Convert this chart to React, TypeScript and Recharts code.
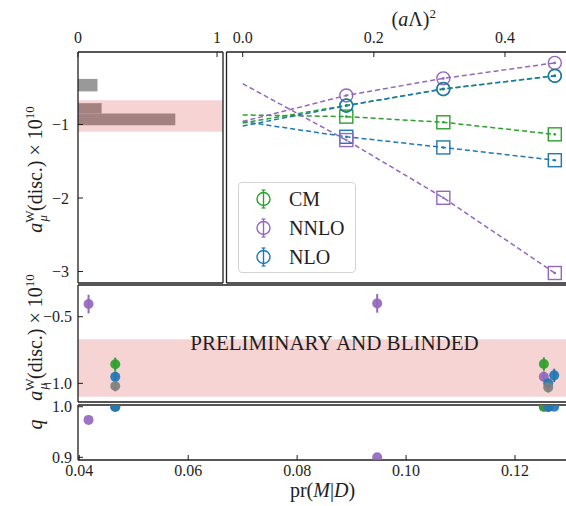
import React from "react";
import {
  ComposedChart,
  Scatter,
  Line,
  XAxis,
  YAxis,
  ReferenceArea,
  ErrorBar,
  Legend,
  Label,
} from "recharts";

// ---- data ----
// left histogram: bins of a_mu (x 1e10) and normalised counts
const histLo = [-0.55, -0.85, -1.01];
const histHi = [-0.38, -0.71, -0.85];
const histFrac = [0.14, 0.17, 0.7];
const histTicks = [0, 1];
const bandLo = -1.1;
const bandHi = -0.67;

// right panel: continuum extrapolation vs (a Lambda)^2
const a2Pts = [0.158, 0.306, 0.476];
const cmCircle = [-0.74, -0.52, -0.335];
const nloCircle = [-0.745, -0.515, -0.34];
const nnloCircle = [-0.605, -0.373, -0.162];
const cmSquare = [-0.893, -0.97, -1.134];
const nloSquare = [-1.167, -1.312, -1.486];
const nnloSquare = [-1.212, -1.997, -3.02];
// fit values at (a Lambda)^2 = 0
const cmCircle0 = -0.98;
const nloCircle0 = -1.02;
const nnloCircle0 = -0.96;
const cmSquare0 = -0.87;
const nloSquare0 = -0.96;
const nnloSquare0 = -0.445;
const a2Ticks = [0, 0.2, 0.4];
const aTicks = [-1, -2, -3];

const legendNames = ["CM", "NNLO", "NLO"];

// lower panels: vs pr(M|D)
const prPurple = [0.0417, 0.0947, 0.1253];
const aPurple = [-0.405, -0.4, -0.95];
const ePurple = [0.07, 0.07, 0.04];
const qPurple = [0.974, 0.9, 1.0];

const prGreen = [0.0466, 0.1253];
const aGreen = [-0.857, -0.855];
const eGreen = [0.05, 0.05];
const qGreen = [1.0, 1.0];

const prBlue = [0.0466, 0.1261, 0.1272];
const aBlue = [-0.95, -1.0, -0.94];
const eBlue = [0.04, 0.03, 0.05];
const qBlue = [1.0, 1.0, 1.0];

const prGray = [0.0466, 0.1261];
const aGray = [-1.02, -1.03];
const eGray = [0.04, 0.04];
const qGray = [1.0, 0.999];

const prTicks = [0.04, 0.06, 0.08, 0.1, 0.12];
const midTicks = [-0.5, -1.0];
const qTicks = [0.9, 1.0];

// ---- style ----
const FONT = '"Liberation Serif", "DejaVu Serif", serif';
const INK = "#1e1e1e";
const GREEN = "#2ca02c";
const PURPLE = "#9467bd";
const BLUE = "#1f77b4";
const GRAY = "#7f7f7f";
const RED = "#d62728";
const TICK = 5;

const spine = { stroke: INK, strokeWidth: 1.3 };
const tline = { stroke: INK, strokeWidth: 1 };
const tickFont = { fontSize: 16, fontFamily: FONT, fill: INK };

const fmt = (d: number) => (v: number) => (v < 0 ? "\u2212" : "") + Math.abs(v).toFixed(d);

const rows = (xs: number[], ys: number[]) => xs.map((x, i) => ({ x, y: ys[i] }));
const fitRows = (y0: number, ys: number[]) => rows([0, ...a2Pts], [y0, ...ys]);
const errRows = (xs: number[], ys: number[], es: number[]) =>
  xs.map((x, i) => ({ x, y: ys[i], err: es[i] }));

const X_A = [0, 1.043];
const X_B = [-0.0247, 0.4946];
const Y_TOP = [-3.156, -0.014];
const X_PR = [0.03976, 0.12955];
const Y_MID = [-1.14, -0.262];
const Y_Q = [0.8947, 1.0034];

function ALabel({ viewBox, shift }: any) {
  const x = viewBox.x + 42;
  const y = viewBox.y + viewBox.height / 2 + shift;
  return (
    <text x={x} y={y} transform={`rotate(-90 ${x} ${y})`} textAnchor="middle" fontFamily={FONT} fontSize={20} fill={INK}>
      <tspan fontStyle="italic">a</tspan>
      <tspan fontSize={13} dy={-8}>W</tspan>
      <tspan fontSize={13} fontStyle="italic" dx={-11} dy={13}>μ</tspan>
      <tspan dx={4} dy={-5}>(disc.) × 10</tspan>
      <tspan fontSize={13} dy={-8}>10</tspan>
    </text>
  );
}

function QLabel({ viewBox }: any) {
  const x = viewBox.x + 42;
  const y = viewBox.y + viewBox.height / 2 - 8;
  return (
    <text x={x} y={y} transform={`rotate(-90 ${x} ${y})`} textAnchor="middle" fontFamily={FONT} fontSize={20} fontStyle="italic" fill={INK}>
      q
    </text>
  );
}

function A2Label({ viewBox }: any) {
  const x = viewBox.x + viewBox.width / 2 + 17;
  const y = viewBox.y + 14;
  return (
    <text x={x} y={y} textAnchor="middle" fontFamily={FONT} fontSize={20} fill={INK}>
      (<tspan fontStyle="italic">a</tspan>Λ)<tspan fontSize={13} dy={-8}>2</tspan>
    </text>
  );
}

function PrLabel({ viewBox }: any) {
  const x = viewBox.x + viewBox.width / 2;
  const y = viewBox.y + 37;
  return (
    <text x={x} y={y} textAnchor="middle" fontFamily={FONT} fontSize={20} fill={INK}>
      pr(<tspan fontStyle="italic">M</tspan>|<tspan fontStyle="italic">D</tspan>)
    </text>
  );
}

function BlindLabel({ viewBox }: any) {
  return (
    <text x={viewBox.x + viewBox.width / 2 + 12} y={viewBox.y + 11} textAnchor="middle" fontFamily={FONT} fontSize={21} fill={INK}>
      PRELIMINARY AND BLINDED
    </text>
  );
}

const openCircle = (color: string) => (p: any) => (
  <g>
    <circle cx={p.cx} cy={p.cy} r={6.5} fill="none" stroke={color} strokeWidth={1.4} />
    <circle cx={p.cx} cy={p.cy} r={1.3} fill={color} />
  </g>
);
const openSquare = (color: string) => (p: any) => (
  <g>
    <rect x={p.cx - 6.5} y={p.cy - 6.5} width={13} height={13} fill="none" stroke={color} strokeWidth={1.4} />
    <circle cx={p.cx} cy={p.cy} r={1.3} fill={color} />
  </g>
);
const dot = (color: string) => (p: any) => <circle cx={p.cx} cy={p.cy} r={5} fill={color} fillOpacity={0.92} />;

function LegendBox() {
  const colors = [GREEN, PURPLE, BLUE];
  return (
    <div
      style={{
        boxSizing: "border-box",
        width: 118,
        height: 91,
        border: "1px solid #d4d4d4",
        borderRadius: 4,
        background: "rgba(255,255,255,0.85)",
        paddingTop: 1,
      }}
    >
      {legendNames.map((n, i) => (
        <div key={n} style={{ display: "flex", alignItems: "center", height: 29 }}>
          <svg width={50} height={26} style={{ flex: "none" }}>
            <line x1={24.5} x2={24.5} y1={4} y2={22} stroke={colors[i]} strokeWidth={1.4} />
            <line x1={22.5} x2={26.5} y1={4} y2={4} stroke={colors[i]} strokeWidth={1.2} />
            <line x1={22.5} x2={26.5} y1={22} y2={22} stroke={colors[i]} strokeWidth={1.2} />
            <circle cx={24.5} cy={13} r={6.5} fill="none" stroke={colors[i]} strokeWidth={1.4} />
          </svg>
          <span style={{ fontFamily: FONT, fontSize: 20, color: INK, lineHeight: "20px" }}>{n}</span>
        </div>
      ))}
    </div>
  );
}

function HistPanel() {
  return (
    <ComposedChart width={224} height={290} margin={{ top: 12, right: 0, bottom: 6, left: 0 }}>
      <XAxis xAxisId="top" orientation="top" type="number" dataKey="x" domain={X_A} ticks={histTicks} interval={0}
        height={40} allowDataOverflow tickSize={-TICK} tickMargin={14} axisLine={spine} tickLine={tline} tick={tickFont} />
      <XAxis xAxisId="bottom" orientation="bottom" type="number" dataKey="x" domain={X_A} ticks={histTicks} interval={0}
        height={1} allowDataOverflow tickSize={-TICK} axisLine={spine} tickLine={tline} tick={false} />
      <YAxis yAxisId="left" orientation="left" type="number" dataKey="y" domain={Y_TOP} ticks={aTicks} interval={0}
        width={78} allowDataOverflow tickSize={-TICK} tickMargin={14} axisLine={spine} tickLine={tline} tick={tickFont}
        tickFormatter={fmt(0)} label={<Label content={(p: any) => <ALabel viewBox={p.viewBox} shift={2} />} />} />
      <YAxis yAxisId="right" orientation="right" type="number" domain={Y_TOP} ticks={aTicks} interval={0}
        width={1} allowDataOverflow tickSize={-TICK} axisLine={spine} tickLine={tline} tick={false} />
      {histFrac.map((f, i) => (
        <ReferenceArea key={i} xAxisId="bottom" yAxisId="left" x1={0} x2={f} y1={histLo[i]} y2={histHi[i]}
          fill={GRAY} fillOpacity={0.8} stroke="none" ifOverflow="hidden" />
      ))}
      <ReferenceArea xAxisId="bottom" yAxisId="left" y1={bandLo} y2={bandHi} fill={RED} fillOpacity={0.2} stroke="none" />
    </ComposedChart>
  );
}

function FitPanel() {
  const series = [
    { y0: cmSquare0, ys: cmSquare, c: GREEN, sq: true },
    { y0: nloSquare0, ys: nloSquare, c: BLUE, sq: true },
    { y0: nnloSquare0, ys: nnloSquare, c: PURPLE, sq: true },
    { y0: nnloCircle0, ys: nnloCircle, c: PURPLE, sq: false },
    { y0: cmCircle0, ys: cmCircle, c: GREEN, sq: false },
    { y0: nloCircle0, ys: nloCircle, c: BLUE, sq: false },
  ];
  return (
    <ComposedChart width={346} height={290} margin={{ top: 12, right: 2, bottom: 6, left: 1.5 }}>
      <XAxis xAxisId="top" orientation="top" type="number" dataKey="x" domain={X_B} ticks={a2Ticks} interval={0}
        height={40} allowDataOverflow tickSize={-TICK} tickMargin={14} axisLine={spine} tickLine={tline} tick={tickFont}
        tickFormatter={fmt(1)} label={<Label content={(p: any) => <A2Label viewBox={p.viewBox} />} />} />
      <XAxis xAxisId="bottom" orientation="bottom" type="number" dataKey="x" domain={X_B} ticks={a2Ticks} interval={0}
        height={1} allowDataOverflow tickSize={-TICK} axisLine={spine} tickLine={tline} tick={false} />
      <YAxis yAxisId="left" orientation="left" type="number" dataKey="y" domain={Y_TOP} ticks={aTicks} interval={0}
        width={1} allowDataOverflow tickSize={-TICK} axisLine={spine} tickLine={tline} tick={false} />
      <YAxis yAxisId="right" orientation="right" type="number" domain={Y_TOP} ticks={aTicks} interval={0}
        width={1} allowDataOverflow tickSize={-TICK} axisLine={spine} tickLine={tline} tick={false} />
      {series.map((s, i) => (
        <Line key={"l" + i} xAxisId="bottom" yAxisId="left" data={fitRows(s.y0, s.ys)} dataKey="y" type="linear"
          stroke={s.c} strokeWidth={1.5} strokeDasharray="5 3" dot={false} isAnimationActive={false} />
      ))}
      {series.map((s, i) => (
        <Scatter key={"s" + i} xAxisId="bottom" yAxisId="left" data={rows(a2Pts, s.ys)}
          shape={s.sq ? openSquare(s.c) : openCircle(s.c)} isAnimationActive={false} />
      ))}
      <Legend layout="vertical" align="center" verticalAlign="middle"
        wrapperStyle={{ left: 14, top: 182, width: 118, height: 91 }} content={() => <LegendBox />} />
    </ComposedChart>
  );
}

function MidPanel() {
  const series = [
    { d: errRows(prPurple, aPurple, ePurple), c: PURPLE },
    { d: errRows(prGreen, aGreen, eGreen), c: GREEN },
    { d: errRows(prBlue, aBlue, eBlue), c: BLUE },
    { d: errRows(prGray, aGray, eGray), c: GRAY },
  ];
  // chart box starts at y=262 so the rotated axis title is not cut off
  return (
    <ComposedChart width={570} height={141} margin={{ top: 22, right: 2, bottom: 0, left: 0 }}>
      <XAxis xAxisId="top" orientation="top" type="number" dataKey="x" domain={X_PR} ticks={prTicks} interval={0}
        height={1} allowDataOverflow tickSize={-TICK} axisLine={spine} tickLine={tline} tick={false} />
      <XAxis xAxisId="bottom" orientation="bottom" type="number" dataKey="x" domain={X_PR} ticks={prTicks} interval={0}
        height={1} allowDataOverflow tickSize={-TICK} axisLine={spine} tickLine={tline} tick={false} />
      <YAxis yAxisId="left" orientation="left" type="number" dataKey="y" domain={Y_MID} ticks={midTicks} interval={0}
        width={78} allowDataOverflow tickSize={-TICK} tickMargin={11} axisLine={spine} tickLine={tline} tick={tickFont}
        tickFormatter={fmt(1)} label={<Label content={(p: any) => <ALabel viewBox={p.viewBox} shift={-6} />} />} />
      <YAxis yAxisId="right" orientation="right" type="number" domain={Y_MID} ticks={midTicks} interval={0}
        width={1} allowDataOverflow tickSize={-TICK} axisLine={spine} tickLine={tline} tick={false} />
      <ReferenceArea xAxisId="bottom" yAxisId="left" y1={bandLo} y2={bandHi} fill={RED} fillOpacity={0.2} stroke="none"
        label={<Label content={(p: any) => <BlindLabel viewBox={p.viewBox} />} />} />
      {series.map((s, i) => (
        <Scatter key={i} xAxisId="bottom" yAxisId="left" data={s.d} shape={dot(s.c)} isAnimationActive={false}>
          <ErrorBar dataKey="err" direction="y" width={0} stroke={s.c} strokeWidth={2} isAnimationActive={false} />
        </Scatter>
      ))}
    </ComposedChart>
  );
}

function QPanel() {
  const series = [
    { d: rows(prPurple, qPurple), c: PURPLE },
    { d: rows(prGreen, qGreen), c: GREEN },
    { d: rows(prGray, qGray), c: GRAY },
    { d: rows(prBlue, qBlue), c: BLUE },
  ];
  // chart box starts at y=392 so the top tick label is not cut off
  return (
    <ComposedChart width={570} height={114} margin={{ top: 12, right: 2, bottom: 0, left: 0 }}>
      <XAxis xAxisId="top" orientation="top" type="number" dataKey="x" domain={X_PR} ticks={prTicks} interval={0}
        height={1} allowDataOverflow tickSize={-TICK} axisLine={spine} tickLine={tline} tick={false} />
      <XAxis xAxisId="bottom" orientation="bottom" type="number" dataKey="x" domain={X_PR} ticks={prTicks} interval={0}
        height={46} allowDataOverflow tickSize={-TICK} tickMargin={10} axisLine={spine} tickLine={tline} tick={tickFont}
        tickFormatter={fmt(2)} label={<Label content={(p: any) => <PrLabel viewBox={p.viewBox} />} />} />
      <YAxis yAxisId="left" orientation="left" type="number" dataKey="y" domain={Y_Q} ticks={qTicks} interval={0}
        width={78} allowDataOverflow tickSize={-TICK} tickMargin={11} axisLine={spine} tickLine={tline} tick={tickFont}
        tickFormatter={fmt(1)} label={<Label content={(p: any) => <QLabel viewBox={p.viewBox} />} />} />
      <YAxis yAxisId="right" orientation="right" type="number" domain={Y_Q} ticks={qTicks} interval={0}
        width={1} allowDataOverflow tickSize={-TICK} axisLine={spine} tickLine={tline} tick={false} />
      {series.map((s, i) => (
        <Scatter key={i} xAxisId="bottom" yAxisId="left" data={s.d} shape={dot(s.c)} isAnimationActive={false} />
      ))}
    </ComposedChart>
  );
}

export default function App() {
  return (
    <div style={{ position: "absolute", left: 0, top: 0, width: 566, height: 506, overflow: "hidden", background: "#fff" }}>
      <div style={{ position: "absolute", left: 0, top: 0 }}>
        <HistPanel />
      </div>
      <div style={{ position: "absolute", left: 224, top: 0 }}>
        <FitPanel />
      </div>
      <div style={{ position: "absolute", left: 0, top: 262 }}>
        <MidPanel />
      </div>
      <div style={{ position: "absolute", left: 0, top: 392 }}>
        <QPanel />
      </div>
    </div>
  );
}
